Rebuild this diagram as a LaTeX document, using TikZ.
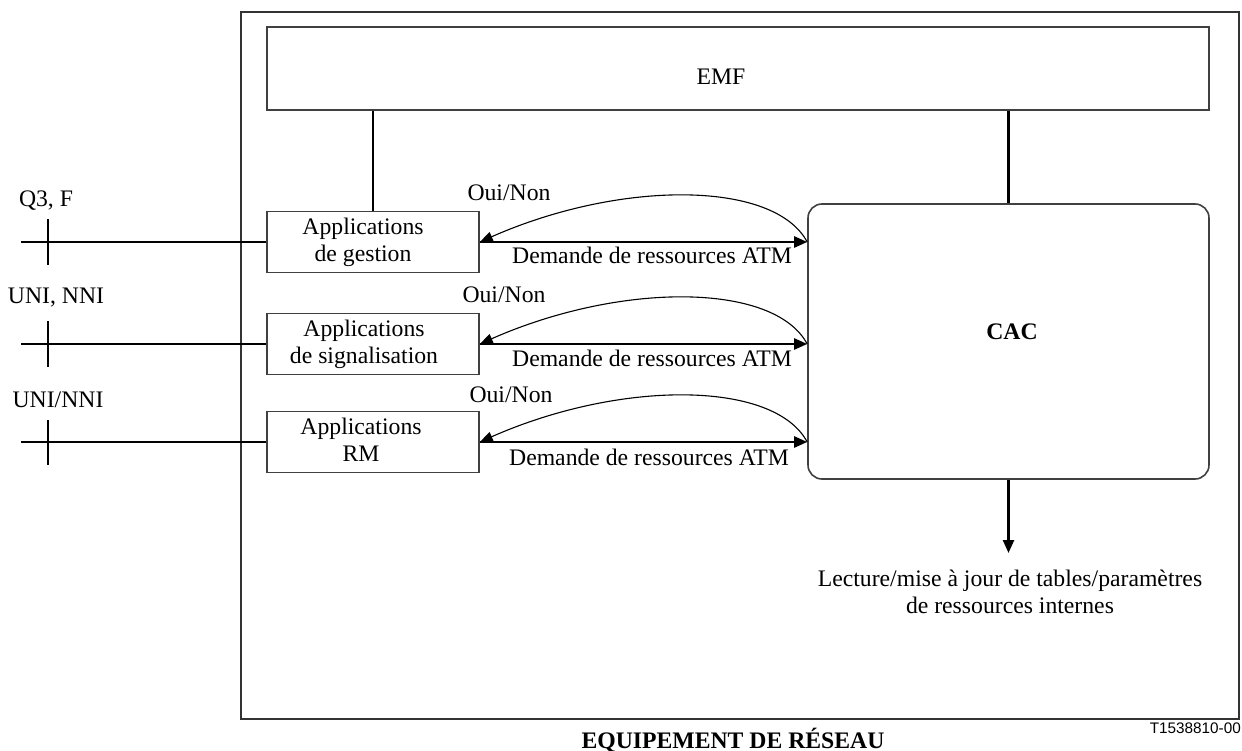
\documentclass[tikz,border=0pt]{standalone}
\usepackage{fontspec}
\setmainfont{Liberation Serif}
\newfontfamily\tagfont{Liberation Sans}
\usetikzlibrary{arrows.meta}
\newcommand\bodysize{\fontsize{23.7pt}{27pt}\selectfont}
\begin{document}
\begin{tikzpicture}[x=1pt,y=-1pt,
  framebox/.style={draw=black!80,line width=1.8pt,inner sep=0pt},
  blockbox/.style={draw=black!75,line width=1.6pt,inner sep=0pt},
  appbox/.style={blockbox,minimum width=212pt,minimum height=61pt},
  txt/.style={font=\bodysize,inner sep=0pt,align=center},
  wire/.style={line width=2.4pt},
  ifline/.style={line width=2.2pt},
  req/.style={wire,-{Triangle[length=13pt,width=11pt]}},
  reply/.style={line width=1.1pt,-{Triangle[length=13pt,width=10pt]}}]
\useasboundingbox (0,0) rectangle (1242,751);

% network equipment frame and its title
\node[framebox,minimum width=998pt,minimum height=707pt] (ne) at (740,365.5) {};
\node[txt,font=\bodysize\bfseries,anchor=base] (netitle) at (733,748) {EQUIPEMENT DE RÉSEAU};
\node[inner sep=0pt,font=\tagfont\fontsize{15.3pt}{18pt}\selectfont,anchor=base east] (tag) at (1241,733) {T1538810-00};

% EMF block
\node[blockbox,minimum width=942pt,minimum height=83pt] (emf) at (738,68.5) {};
\node[txt,anchor=base] (emft) at (721,85) {EMF};

% CAC block
\node[blockbox,rounded corners=14pt,minimum width=401pt,minimum height=275pt] (cac) at (1008.5,341.5) {};
\node[txt,font=\bodysize\bfseries] (cact) at (1012,332) {CAC};

% application blocks
\node[appbox] (g) at (373,242) {};
\node[txt] (gt) at (363,242.5) {Applications\\de gestion};
\node[appbox] (s) at (373,344) {};
\node[txt] (st) at (364,344) {Applications\\de signalisation};
\node[appbox] (r) at (373,442) {};
\node[txt] (rt) at (361,440) {Applications\\RM};

% links to EMF
\draw[wire] (g.north |- emf.south) -- (g.north);
\draw[wire] (cac.north |- emf.south) -- (cac.north);

% external interfaces
\coordinate (qin) at (21,242);
\coordinate (qa) at (48,219);
\coordinate (qb) at (48,265);
\draw[ifline] (qin) -- (g.west);
\draw[ifline] (qa) -- (qb);
\node[txt,anchor=base] (ql) at (46,207) {Q3, F};

\coordinate (sin) at (21,344);
\coordinate (sa) at (48,321);
\coordinate (sb) at (48,367);
\draw[ifline] (sin) -- (s.west);
\draw[ifline] (sa) -- (sb);
\node[txt,anchor=base] (sl) at (56,304) {UNI, NNI};

\coordinate (rin) at (21,442);
\coordinate (ra) at (48,420);
\coordinate (rb) at (48,465);
\draw[ifline] (rin) -- (r.west);
\draw[ifline] (ra) -- (rb);
\node[txt,anchor=base] (rl) at (58,407) {UNI/NNI};

% requests to CAC and yes/no replies
\draw[req] (g.east) -- (g.east -| cac.west);
\draw[reply] (g.east -| cac.west) .. controls +(-33,-62) and +(140,-62) .. (g.east);
\node[txt,anchor=base] (gyn) at (509,201) {Oui/Non};
\node[txt,anchor=base] (greq) at (652,264) {Demande de ressources ATM};

\draw[req] (s.east) -- (s.east -| cac.west);
\draw[reply] (s.east -| cac.west) .. controls +(-33,-62) and +(140,-62) .. (s.east);
\node[txt,anchor=base] (syn) at (504,303) {Oui/Non};
\node[txt,anchor=base] (sreq) at (652,366) {Demande de ressources ATM};

\draw[req] (r.east) -- (r.east -| cac.west);
\draw[reply] (r.east -| cac.west) .. controls +(-33,-62) and +(140,-62) .. (r.east);
\node[txt,anchor=base] (ryn) at (511,402) {Oui/Non};
\node[txt,anchor=base] (rreq) at (649,465) {Demande de ressources ATM};

% internal resource tables
\coordinate (tbl) at (1008.5,553);
\draw[req] (cac.south) -- (tbl);
\node[txt,anchor=north] (tblt) at (1010,570) {Lecture/mise à jour de tables/paramètres\\de ressources internes};
\end{tikzpicture}
\end{document}
